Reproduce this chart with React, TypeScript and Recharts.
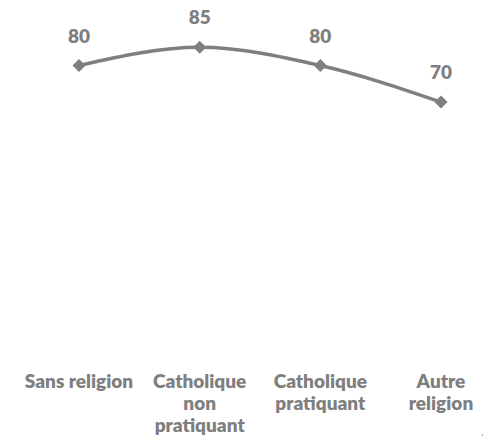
import { LineChart, Line, XAxis, YAxis, LabelList } from 'recharts';

const categories = ['Sans religion', 'Catholique non pratiquant', 'Catholique pratiquant', 'Autre religion'];
const tickLines = [
  ['Sans religion'],
  ['Catholique', 'non', 'pratiquant'],
  ['Catholique', 'pratiquant'],
  ['Autre', 'religion'],
];
const values = [80, 85, 80, 70];

const GRAY = '#7f7f7f';
const FONT = 'Lato, "Open Sans", sans-serif';

const data = categories.map((c, i) => ({ cat: c, value: values[i] }));

const Tick = ({ x, y, payload }: any) => {
  const lines = tickLines[payload.index] || [payload.value];
  return (
    <text x={x} y={y} textAnchor="middle" fill={GRAY} fontFamily={FONT} fontSize={19} fontWeight={800}>
      {lines.map((l: string, i: number) => (
        <tspan key={i} x={x} dy={i === 0 ? 22 : 22}>{l}</tspan>
      ))}
    </text>
  );
};

const ValueLabel = ({ x, y, value }: any) => (
  <text x={x} y={y - 23} textAnchor="middle" fill={GRAY} fontFamily={FONT} fontSize={19} fontWeight={800}>
    {value}
  </text>
);

const Diamond = ({ cx, cy }: any) => (
  <path d={`M${cx},${cy - 6.5}L${cx + 6.5},${cy}L${cx},${cy + 6.5}L${cx - 6.5},${cy}Z`} fill={GRAY} />
);

export default function App() {
  return (
    <div style={{ position: 'relative', width: 491, height: 444, margin: -8, background: '#fff' }}>
      <LineChart width={491} height={444} data={data} margin={{ top: 29, right: 50, bottom: 0, left: 79 }}>
        <XAxis
          dataKey="cat"
          axisLine={false}
          tickLine={false}
          interval={0}
          height={86}
          tick={<Tick />}
          padding={{ left: 0, right: 0 }}
        />
        <YAxis hide domain={[0, 90]} />
        <Line
          type="monotone"
          dataKey="value"
          stroke={GRAY}
          strokeWidth={3.5}
          dot={<Diamond />}
          activeDot={false}
          isAnimationActive={false}
        >
          <LabelList dataKey="value" content={<ValueLabel />} />
        </Line>
      </LineChart>
      <svg
        width={491}
        height={444}
        style={{ position: 'absolute', left: 0, top: 0, pointerEvents: 'none' }}
      >
        <circle cx={245} cy={90} r={419} fill="none" stroke="#808080" strokeWidth={1.3} strokeDasharray="6 4" />
      </svg>
    </div>
  );
}
